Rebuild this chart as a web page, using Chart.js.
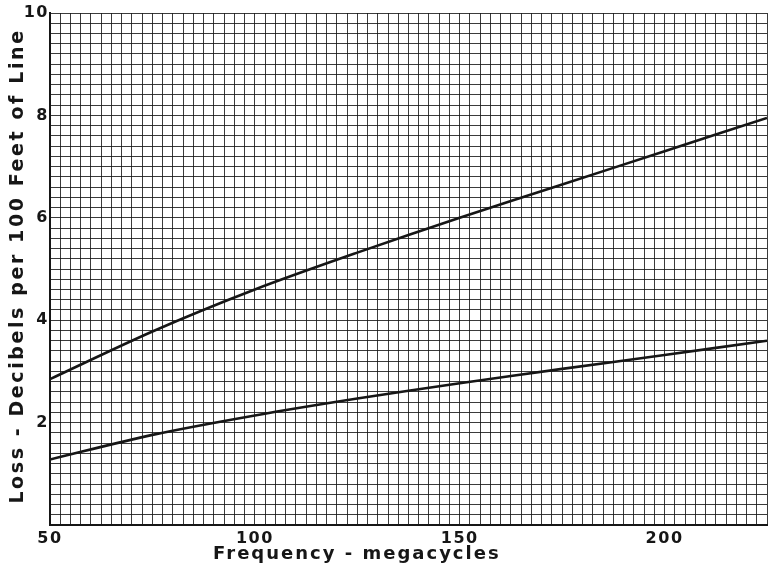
<!DOCTYPE html>
<html>
<head>
<meta charset="utf-8">
<script src="https://cdn.jsdelivr.net/npm/chart.js@4"></script>
<style>
  html, body { margin: 0; padding: 0; background: #fff; }
  #wrap { width: 771px; height: 573px; }
</style>
</head>
<body>
<div id="wrap"><canvas id="lossChart" width="771" height="573"></canvas></div>
<script>
// values
const frequency = [50, 75, 100, 125, 150, 175, 200, 225];
const upperLoss = [2.85, 3.78, 4.6, 5.32, 6.0, 6.65, 7.3, 7.95];
const lowerLoss = [1.28, 1.76, 2.14, 2.47, 2.77, 3.05, 3.32, 3.6];

const xLabels = [50, 100, 150, 200];
const yLabels = [2, 4, 6, 8, 10];

const xTitle = 'Frequency - megacycles';
const yTitle = 'Loss - Decibels per 100 Feet of Line';

const font = '"DejaVu Sans", sans-serif';
const ink = '#161616';
const gridInk = 'rgba(25, 25, 25, 0.85)';

function toPoints(ys) {
    return frequency.map((f, i) => ({ x: f, y: ys[i] }));
}

function near(v, list) {
    return list.some(t => Math.abs(v - t) < 1e-6);
}

// axis titles drawn here so each gets its own letter spacing;
// x title sits left of centre like the original
const paperPlugin = {
    id: 'paper',
    beforeDraw(chart) {
        chart.ctx.letterSpacing = '1.5px';
    },
    afterDraw(chart) {
        const ctx = chart.ctx;
        const area = chart.chartArea;
        ctx.save();
        ctx.fillStyle = ink;
        ctx.textAlign = 'center';
        ctx.textBaseline = 'middle';

        ctx.letterSpacing = '2px';
        ctx.font = 'bold 18px ' + font;
        ctx.fillText(xTitle, area.left + (area.right - area.left) * 0.428, 554);

        ctx.letterSpacing = '2.6px';
        ctx.font = 'bold 19px ' + font;
        ctx.translate(18, (area.top + area.bottom) / 2 - 3);
        ctx.rotate(-Math.PI / 2);
        ctx.fillText(yTitle, 0, 0);
        ctx.restore();
    }
};

const ctxLoss = document.getElementById('lossChart').getContext('2d');
const lossChart = new Chart(ctxLoss, {
    type: 'line',
    data: {
        datasets: [{
            label: 'Upper curve',
            data: toPoints(upperLoss),
            borderColor: ink,
            borderWidth: 2.6,
            pointRadius: 0,
            tension: 0.3,
            fill: false
        }, {
            label: 'Lower curve',
            data: toPoints(lowerLoss),
            borderColor: ink,
            borderWidth: 2.6,
            pointRadius: 0,
            tension: 0.3,
            fill: false
        }]
    },
    options: {
        responsive: false,
        animation: false,
        layout: { padding: { top: 13, right: 2, left: 0, bottom: 0 } },
        plugins: {
            legend: { display: false },
            tooltip: { enabled: false }
        },
        scales: {
            x: {
                type: 'linear',
                min: 50,
                max: 225,
                afterFit(scale) { scale.height = 48; },
                grid: { color: gridInk, lineWidth: 1, drawTicks: false },
                border: { color: ink, width: 2 },
                ticks: {
                    stepSize: 2.5,
                    autoSkip: false,
                    maxRotation: 0,
                    padding: 4,
                    color: ink,
                    font: { family: font, size: 16, weight: 'bold' },
                    callback: v => near(v, xLabels) ? String(v) : ''
                }
            },
            y: {
                min: 0,
                max: 10,
                afterFit(scale) { scale.width = 50; },
                grid: { color: gridInk, lineWidth: 1, drawTicks: false },
                border: { color: ink, width: 2 },
                ticks: {
                    stepSize: 0.2,
                    autoSkip: false,
                    padding: 1,
                    color: ink,
                    font: { family: font, size: 16, weight: 'bold' },
                    callback: v => near(v, yLabels) ? String(Math.round(v)) : ''
                }
            }
        }
    },
    plugins: [paperPlugin]
});
</script>
</body>
</html>
